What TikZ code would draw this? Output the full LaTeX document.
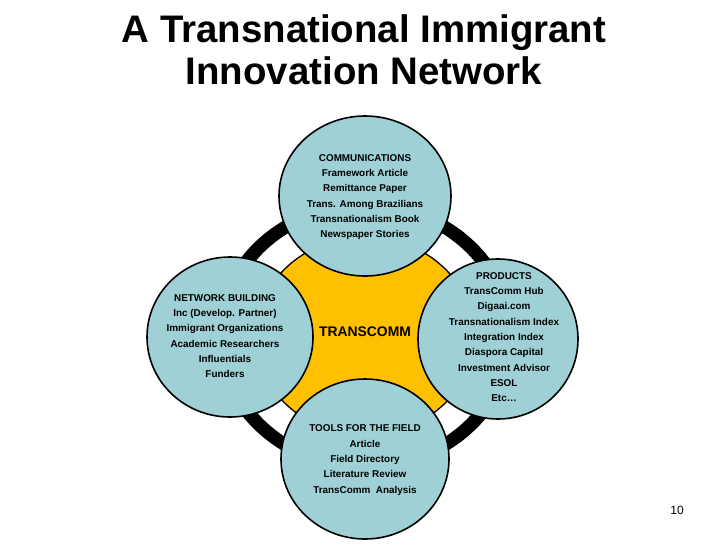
\documentclass[tikz,border=0pt]{standalone}
\usepackage{fontspec}
\setmainfont{Liberation Sans}
\usetikzlibrary{shapes.geometric}
\definecolor{paleblue}{RGB}{158,208,213}
\definecolor{gold}{RGB}{255,192,0}
\begin{document}
\begin{tikzpicture}[x=1pt, y=-1pt,
	blob/.style={ellipse, draw=black, line width=1.6pt, fill=paleblue, minimum width=#1, minimum height=160pt, inner sep=0pt},
	blobtext/.style={align=center, inner sep=0pt, font=\fontsize{9.9}{15.3}\selectfont\bfseries}]
	\useasboundingbox[fill=white] (0,0) rectangle (728,546);
	% title
	\node[anchor=north, align=center, inner sep=0pt, font=\fontsize{38.4}{42}\selectfont\bfseries] (title) at (364,14.5) {A Transnational Immigrant\\Innovation Network};
	
	% ring and hub
	\fill[black] (365,336) ellipse [x radius=151pt, y radius=137pt];
	\fill[white] (365,336) ellipse [x radius=137pt, y radius=124pt];
	\node[ellipse, draw=black, line width=1.3pt, fill=gold, minimum width=218pt, minimum height=198pt, inner sep=0pt] (hub) at (365,336) {};
	\node[inner sep=0pt, font=\fontsize{13.9}{16}\selectfont\bfseries] (hubtext) at (365,332) {TRANSCOMM};
	
	% the four circles
	\node[blob=172pt] (comm) at (365,196) {};
	\node[blob=166pt] (netw) at (230,337) {};
	\node[blob=160pt] (prod) at (498,339) {};
	\node[blob=168pt] (tools) at (365,459) {};
	
	\node[blobtext] (commtext) at (365,197) {COMMUNICATIONS\\Framework Article\\Remittance Paper\\Trans. Among Brazilians\\Transnationalism Book\\Newspaper Stories};
	\node[blobtext] (netwtext) at (225,336) {NETWORK BUILDING\\Inc (Develop. Partner)\\Immigrant Organizations\\Academic Researchers\\Influentials\\Funders};
	\node[blobtext] (prodtext) at (504,337) {PRODUCTS\\TransComm Hub\\Digaai.com\\Transnationalism Index\\Integration Index\\Diaspora Capital\\Investment Advisor\\ESOL\\Etc\dots};
	\node[blobtext] (toolstext) at (365,460) {TOOLS FOR THE FIELD\\Article\\Field Directory\\Literature Review\\TransComm~ Analysis};
	
	% page number
	\node[inner sep=0pt, font=\fontsize{12}{14}\selectfont] (page) at (677,510) {10};
\end{tikzpicture}
\end{document}
